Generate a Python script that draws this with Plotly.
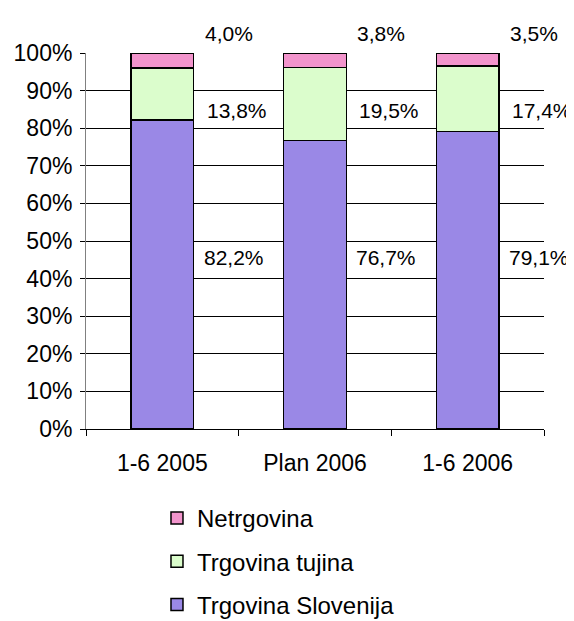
import plotly.graph_objects as go

categories = ["1-6 2005", "Plan 2006", "1-6 2006"]
trg_slo = [82.2, 76.7, 79.1]
trg_tuj = [13.8, 19.5, 17.4]
netrg = [4.0, 3.8, 3.5]
series_names = ["Trgovina Slovenija", "Trgovina tujina", "Netrgovina"]
series_vals = [trg_slo, trg_tuj, netrg]
colors = ["#9A88E6", "#DBFDCC", "#F294CC"]
label_y = [0.455, 0.848, 1.053]  # paper-relative label heights
label_xshift = [-5, -2, -10]

FS_LABEL = 21
FS_TICK = 23
FS_LEG = 24
fig = go.Figure()
for i, (name, vals, col) in enumerate(zip(series_names, series_vals, colors)):
    fig.add_trace(go.Bar(
        x=categories, y=vals, name=name, legendgroup=name,
        legendrank=10 - i,
        marker=dict(color=col, line=dict(color="black", width=1.5)),
        width=0.41,
    ))
    for j, v in enumerate(vals):
        fig.add_annotation(
            x=j + 0.5, y=label_y[i], xref="x", yref="paper",
            xshift=label_xshift[i],
            text=f"{v:.1f}".replace(".", ",") + "%",
            showarrow=False, font=dict(size=FS_LABEL, color="black"),
            xanchor="center", yanchor="middle",
        )

fig.update_layout(
    barmode="stack",
    width=566, height=613,
    margin=dict(l=78, r=30, t=45, b=192, autoexpand=False),
    paper_bgcolor="white", plot_bgcolor="white",
    font=dict(family="Liberation Sans, Arial, sans-serif", size=FS_TICK, color="black"),
    showlegend=True,
    legend=dict(
        x=0.155, y=-0.178, xanchor="left", yanchor="top",
        orientation="v", traceorder="grouped",
        tracegroupgap=9, font=dict(size=FS_LEG),
        itemwidth=30,
    ),
    bargap=0.59,
)
fig.update_xaxes(
    type="category", range=[-0.5, 2.5],
    showline=True, linecolor="black", linewidth=1,
    ticks="outside", tickson="boundaries", ticklen=6, tickcolor="black",
    showgrid=False, tickfont=dict(size=FS_TICK), ticklabelstandoff=13,
    automargin=False,
)
fig.update_yaxes(
    range=[0, 100], dtick=10, ticksuffix="%",
    showline=True, linecolor="#808080", linewidth=1,
    ticks="outside", ticklen=5, tickcolor="black",
    showgrid=True, gridcolor="black", gridwidth=1,
    tickfont=dict(size=FS_TICK), zeroline=False, ticklabelstandoff=3,
    automargin=False,
)

fig.write_html("out.html")
